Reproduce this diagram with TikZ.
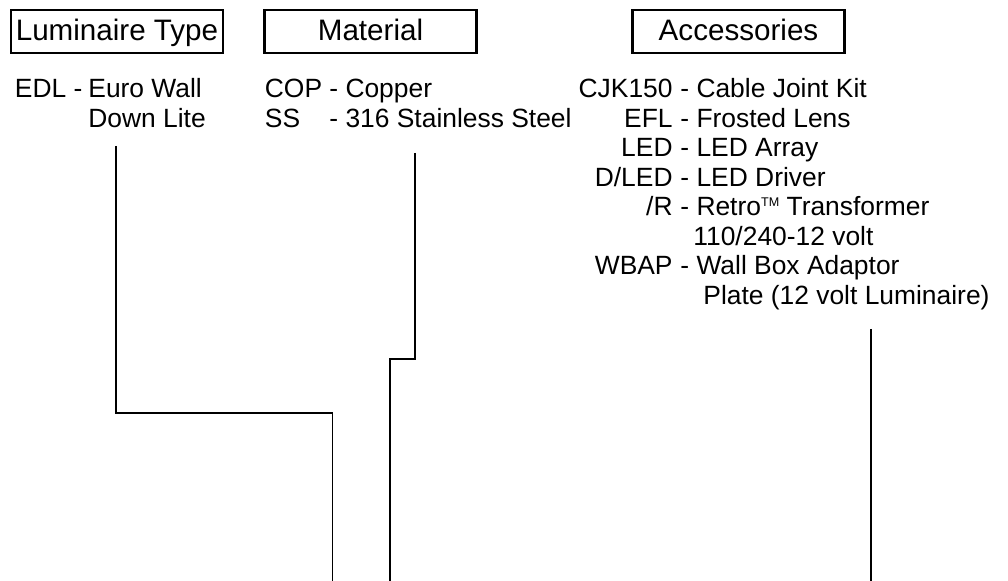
\documentclass[tikz,border=0pt]{standalone}
\usepackage{fontspec}
\setmainfont{Liberation Sans}
\newcommand{\headfont}{\fontsize{14.8}{17}\selectfont}
\newcommand{\listfont}{\fontsize{13.2}{15}\selectfont}
\newcommand{\tmark}{\raisebox{4.8pt}{\fontsize{6.3}{7}\selectfont TM}}
\tikzset{
  heading/.style={draw, line width=1.3pt, minimum width=106pt,
    minimum height=21.5pt, inner sep=0pt, text height=13pt,
    text depth=3.5pt, font=\headfont},
  code/.style={anchor=base east, inner sep=0pt, font=\listfont},
  descr/.style={anchor=base west, inner sep=0pt, font=\listfont},
  lead/.style={line width=0.7pt}
}

\begin{document}
\begin{tikzpicture}[x=0.5pt, y=-0.5pt]
  \useasboundingbox (0, 0) rectangle (1008, 581);

  % headings
  \node[heading] (type) at (117, 31.5) {Luminaire Type};
  \node[heading] (material) at (370.5, 31.5) {Material};
  \node[heading] (accessories) at (738.5, 31.5) {Accessories};

  % luminaire type
  \node[descr] (edl) at (14.5, 98) {EDL -};
  \node[descr] (edl-a) at (88, 98) {Euro Wall};
  \node[descr] (edl-b) at (88, 127.5) {Down Lite};

  % material
  \node[descr] (cop) at (264.5, 98) {COP};
  \node[descr] (cop-d) at (329, 98) {- Copper};
  \node[descr] (ss) at (264.5, 127.5) {SS};
  \node[descr] (ss-d) at (329, 127.5) {- 316 Stainless Steel};

  % accessories
  \node[code] (cjk) at (673, 98) {CJK150};
  \node[descr] (cjk-d) at (680, 98) {- Cable Joint Kit};
  \node[code] (efl) at (673, 127.5) {EFL};
  \node[descr] (efl-d) at (680, 127.5) {- Frosted Lens};
  \node[code] (led) at (673, 157) {LED};
  \node[descr] (led-d) at (680, 157) {- LED Array};
  \node[code] (dled) at (673, 186.5) {D/LED};
  \node[descr] (dled-d) at (680, 186.5) {- LED Driver};
  \node[code] (retro) at (673, 216) {/R};
  \node[descr] (retro-d) at (680, 216) {- Retro\tmark{} Transformer};
  \node[descr] (retro-e) at (693, 245.5) {110/240-12 volt};
  \node[code] (wbap) at (673, 275) {WBAP};
  \node[descr] (wbap-d) at (680, 275) {- Wall Box Adaptor};
  \node[descr] (wbap-e) at (703, 304.5) {Plate (12 volt Luminaire)};

  % leads
  \coordinate (type-top) at (116, 146);
  \coordinate (type-bend) at (332.7, 413);
  \coordinate (type-end) at (332.7, 581);
  \draw[lead] (type-top) |- (type-bend) -- (type-end);

  \coordinate (material-top) at (415, 153);
  \coordinate (material-bend) at (390, 359);
  \coordinate (material-end) at (390, 581);
  \draw[lead] (material-top) |- (material-bend) -- (material-end);

  \coordinate (accessories-top) at (871, 329);
  \coordinate (accessories-end) at (871, 581);
  \draw[lead] (accessories-top) -- (accessories-end);

\end{tikzpicture}
\end{document}
